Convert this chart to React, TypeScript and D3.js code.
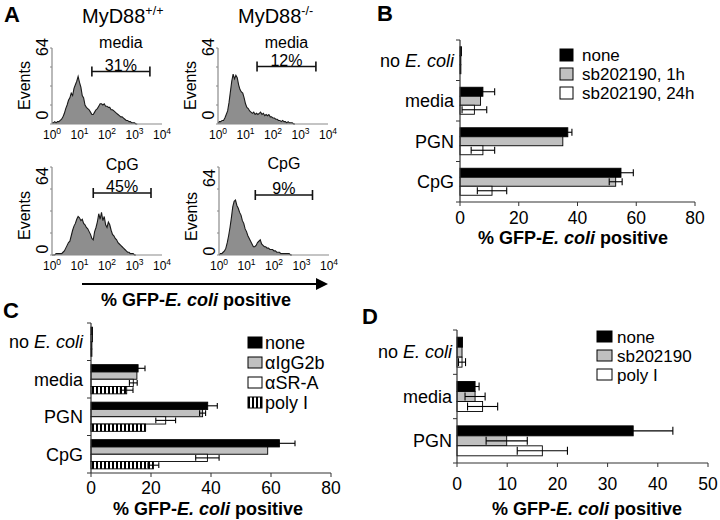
import React from "react";
import * as d3 from "d3";

const FONT = "'Liberation Sans', Arial, Helvetica, sans-serif";

// ---------- Panel A: flow histograms (counts per 0.05-decade bin, from 10^0) ----------
const HIST_BIN = 0.05;
const histMediaWT = [1, 1, 2, 1, 2, 2, 3, 4, 6, 9, 13, 16, 20, 22, 26, 24, 30, 33, 36, 40, 35, 31, 24, 22, 16, 14, 13, 12, 10, 8, 8, 10, 12, 13, 15, 17, 17, 16, 17, 15, 15, 14, 14, 12, 12, 11, 10, 9, 8, 7, 6, 6, 5, 4, 3, 3, 2, 2, 1, 1, 1, 0, 0];
const histMediaKO = [1, 2, 2, 3, 3, 5, 8, 11, 18, 27, 36, 42, 38, 41, 39, 33, 29, 27, 26, 22, 17, 14, 13, 11, 10, 9, 10, 8, 9, 8, 9, 10, 8, 9, 7, 8, 7, 8, 6, 6, 5, 5, 4, 4, 3, 3, 2, 3, 2, 2, 1, 2, 1, 1, 1, 0, 0];
const histCpgWT = [0, 0, 0, 1, 1, 1, 1, 1, 2, 3, 5, 7, 9, 10, 14, 18, 21, 23, 26, 28, 27, 25, 26, 23, 22, 20, 19, 17, 15, 12, 11, 17, 20, 24, 30, 26, 31, 25, 28, 22, 20, 24, 22, 18, 15, 14, 12, 11, 9, 8, 7, 6, 5, 4, 3, 2, 2, 1, 1, 1, 0, 0];
const histCpgKO = [0, 1, 1, 2, 3, 5, 9, 14, 20, 27, 35, 39, 40, 36, 34, 31, 29, 25, 23, 19, 17, 14, 12, 10, 8, 6, 6, 7, 9, 10, 11, 8, 7, 6, 6, 5, 5, 4, 4, 4, 3, 3, 2, 2, 2, 1, 1, 1, 1, 1, 1, 1, 0, 0];
const histGates = [[1.45, 3.56], [1.42, 3.56], [1.5, 3.6], [1.32, 3.4]];
const histPercents = ["31%", "12%", "45%", "9%"];
const histStimuli = ["media", "media", "CpG", "CpG"];
const genotypeLabels = ["+/+", "-/-"];
const decadeTicks = [0, 1, 2, 3, 4];
const eventTicks = [0, 16, 32, 48, 64];

// ---------- Panel B ----------
const bCategories = ["no E. coli", "media", "PGN", "CpG"];
const bSeriesNames = ["none", "sb202190, 1h", "sb202190, 24h"];
const bNone = [0.5, 7.8, 36.7, 54.8];
const bNoneErr = [0, 4.0, 1.4, 4.2];
const bSb1h = [0.3, 7.0, 35.0, 53.0];
const bSb1hErr = [0, 0, 0, 2.2];
const bSb24h = [0.3, 4.9, 7.8, 10.9];
const bSb24hErr = [0, 4.2, 4.0, 5.0];
const bTicks = [0, 20, 40, 60, 80];

// ---------- Panel C ----------
const cCategories = ["no E. coli", "media", "PGN", "CpG"];
const cSeriesNames = ["none", "αIgG2b", "αSR-A", "poly I"];
const cNone = [0.5, 15.7, 38.9, 62.8];
const cNoneErr = [0, 2.3, 3.2, 5.2];
const cIgG = [0.5, 15.3, 37.2, 58.9];
const cIgGErr = [0, 0, 1.0, 0];
const cSRA = [0.3, 14.1, 24.9, 38.8];
const cSRAErr = [0, 1.3, 3.3, 3.9];
const cPolyI = [0.3, 11.9, 18.2, 20.8];
const cPolyIErr = [0, 2.1, 0, 1.8];
const cTicks = [0, 20, 40, 60, 80];

// ---------- Panel D ----------
const dCategories = ["no E. coli", "media", "PGN"];
const dSeriesNames = ["none", "sb202190", "poly I"];
const dNone = [1.1, 3.6, 35.1];
const dNoneErr = [0, 0.8, 7.9];
const dSb = [1.0, 3.6, 9.9];
const dSbErr = [0, 2.0, 4.1];
const dPolyI = [1.0, 5.1, 17.0];
const dPolyIErr = [0.7, 3.0, 5.0];
const dTicks = [0, 10, 20, 30, 40, 50];

const GRAY = "#c0c0c0";

function CatLabel({ text }: { text: string }) {
  if (text.startsWith("no E. coli")) {
    return (
      <>
        {"no "}
        <tspan fontStyle="italic">E. coli</tspan>
      </>
    );
  }
  return <>{text}</>;
}

function AxisTitle({ x, y }: { x: number; y: number }) {
  return (
    <text x={x} y={y} textAnchor="middle" fontWeight="bold" fontSize={18}>
      {"% GFP-"}
      <tspan fontStyle="italic">E. coli</tspan>
      {" positive"}
    </text>
  );
}

function Histogram(props: any) {
  const { x0, yTop, yBase, counts, gate, gateY, pct, stim, stimY, lab64Y, lab0Y } = props;
  const x = d3.scaleLinear().domain([0, 4]).range([x0, x0 + 110]);
  const y = d3.scaleLinear().domain([0, 64]).range([yBase, yTop]);
  const pts: [number, number][] = counts.map((c: number, i: number) => [i * HIST_BIN, c]);
  const area = d3
    .area<[number, number]>()
    .x((d) => x(d[0]))
    .y0(yBase)
    .y1((d) => y(d[1]));
  const line = d3
    .line<[number, number]>()
    .x((d) => x(d[0]))
    .y((d) => y(d[1]));
  const gx0 = x(gate[0]);
  const gx1 = x(gate[1]);
  const gc = (gx0 + gx1) / 2;
  return (
    <g>
      <path d={area(pts) || ""} fill="#8e8e8e" />
      <path d={line(pts) || ""} fill="none" stroke="#1a1a1a" strokeWidth={1.1} />
      <line x1={x0} x2={x0} y1={yTop} y2={yBase} stroke="#8a8a8a" strokeWidth={1.2} />
      <line x1={x0} x2={x(4)} y1={yBase} y2={yBase} stroke="#8a8a8a" strokeWidth={1.2} />
      {eventTicks.map((t) => (
        <line key={t} x1={x0 - 2} x2={x0} y1={y(t)} y2={y(t)} stroke="#8a8a8a" />
      ))}
      {decadeTicks.map((k) => (
        <text key={k} x={x(k)} y={yBase + 15} textAnchor="middle" fontSize={12}>
          10
          <tspan dy={-5} fontSize={8.5}>
            {k}
          </tspan>
        </text>
      ))}
      <text transform={`translate(${x0 - 10},${lab64Y}) rotate(-90)`} textAnchor="middle" dy="0.36em" fontSize={16}>
        64
      </text>
      <text transform={`translate(${x0 - 10},${lab0Y}) rotate(-90)`} textAnchor="middle" dy="0.36em" fontSize={16}>
        0
      </text>
      <text transform={`translate(${x0 - 28},${(yTop + yBase) / 2 + (lab64Y - yTop) / 2}) rotate(-90)`} textAnchor="middle" dy="0.36em" fontSize={16}>
        Events
      </text>
      <line x1={gx0} x2={gx1} y1={gateY} y2={gateY} stroke="#111" strokeWidth={1.6} />
      <line x1={gx0} x2={gx0} y1={gateY - 5} y2={gateY + 5} stroke="#111" strokeWidth={1.6} />
      <line x1={gx1} x2={gx1} y1={gateY - 5} y2={gateY + 5} stroke="#111" strokeWidth={1.6} />
      <text x={gc} y={gateY - 1} textAnchor="middle" fontSize={16}>
        {pct}
      </text>
      <text x={gc} y={stimY} textAnchor="middle" fontSize={16}>
        {stim}
      </text>
    </g>
  );
}

function BarChart(props: any) {
  const { cats, series, domain, ticks, x0, x1, yTop, yBot, padOuter, labelRight, legend, tickBase, title } = props;
  const x = d3.scaleLinear().domain(domain).range([x0, x1]);
  const yg = d3.scaleBand<string>().domain(cats).range([yTop, yBot]).padding(0);
  const ys = d3
    .scaleBand<string>()
    .domain(series.map((s: any) => s.name))
    .range([0, yg.bandwidth()])
    .paddingInner(0)
    .paddingOuter(padOuter);
  const bh = ys.bandwidth();
  const cap = Math.min(bh * 0.8, 8);
  return (
    <g>
      {cats.map((c: string, ci: number) =>
        series.map((s: any) => {
          const yb = (yg(c) as number) + (ys(s.name) as number);
          const v = s.values[ci];
          const e = s.errors[ci];
          return (
            <g key={c + s.name}>
              <rect x={x(0)} y={yb} width={Math.max(x(v) - x(0), 0.8)} height={bh} fill={s.fill} stroke="#000" strokeWidth={0.9} />
              {e > 0 && (
                <g stroke="#000" strokeWidth={1.1}>
                  <line x1={x(v - e)} x2={x(v + e)} y1={yb + bh / 2} y2={yb + bh / 2} />
                  <line x1={x(v - e)} x2={x(v - e)} y1={yb + bh / 2 - cap / 2} y2={yb + bh / 2 + cap / 2} />
                  <line x1={x(v + e)} x2={x(v + e)} y1={yb + bh / 2 - cap / 2} y2={yb + bh / 2 + cap / 2} />
                </g>
              )}
            </g>
          );
        })
      )}
      {/* y axis */}
      <line x1={x0} x2={x0} y1={yTop} y2={yBot} stroke="#333" strokeWidth={1.2} />
      {cats.map((c: string) => (
        <line key={"yt" + c} x1={x0 - 4} x2={x0} y1={yg(c) as number} y2={yg(c) as number} stroke="#333" />
      ))}
      <line x1={x0 - 4} x2={x0} y1={yBot} y2={yBot} stroke="#333" />
      {cats.map((c: string) => (
        <text key={"yl" + c} x={labelRight} y={(yg(c) as number) + yg.bandwidth() / 2} dy="0.35em" textAnchor="end" fontSize={18}>
          <CatLabel text={c} />
        </text>
      ))}
      {/* x axis */}
      <line x1={x0} x2={x1} y1={yBot} y2={yBot} stroke="#333" strokeWidth={1.2} />
      {ticks.map((t: number) => (
        <g key={"xt" + t}>
          <line x1={x(t)} x2={x(t)} y1={yBot} y2={yBot + 4} stroke="#333" />
          <text x={x(t)} y={tickBase} textAnchor="middle" fontSize={17.5}>
            {t}
          </text>
        </g>
      ))}
      <AxisTitle x={title[0]} y={title[1]} />
      {/* legend */}
      {series.map((s: any, i: number) => (
        <g key={"lg" + s.name}>
          <rect x={legend.x} y={legend.y + i * legend.dy} width={legend.w} height={legend.h} fill={s.fill} stroke="#000" strokeWidth={1} />
          <text x={legend.tx} y={legend.y + i * legend.dy + legend.h / 2} dy="0.36em" fontSize={legend.fs}>
            {s.name}
          </text>
        </g>
      ))}
    </g>
  );
}

export default function App() {
  const histLayouts = [
    { x0: 52, yTop: 48, yBase: 124, gateY: 71.5, stimY: 48, lab64Y: 47, lab0Y: 115 },
    { x0: 218, yTop: 48, yBase: 124, gateY: 66.5, stimY: 48, lab64Y: 47, lab0Y: 115 },
    { x0: 52, yTop: 167, yBase: 255, gateY: 193, stimY: 170, lab64Y: 176, lab0Y: 249 },
    { x0: 219, yTop: 167, yBase: 255, gateY: 195, stimY: 169, lab64Y: 178, lab0Y: 251 },
  ];
  const histData = [histMediaWT, histMediaKO, histCpgWT, histCpgKO];

  const bSeries = [
    { name: bSeriesNames[0], values: bNone, errors: bNoneErr, fill: "#000" },
    { name: bSeriesNames[1], values: bSb1h, errors: bSb1hErr, fill: GRAY },
    { name: bSeriesNames[2], values: bSb24h, errors: bSb24hErr, fill: "#fff" },
  ];
  const cSeries = [
    { name: cSeriesNames[0], values: cNone, errors: cNoneErr, fill: "#000" },
    { name: cSeriesNames[1], values: cIgG, errors: cIgGErr, fill: GRAY },
    { name: cSeriesNames[2], values: cSRA, errors: cSRAErr, fill: "#fff" },
    { name: cSeriesNames[3], values: cPolyI, errors: cPolyIErr, fill: "url(#stripes)" },
  ];
  const dSeries = [
    { name: dSeriesNames[0], values: dNone, errors: dNoneErr, fill: "#000" },
    { name: dSeriesNames[1], values: dSb, errors: dSbErr, fill: GRAY },
    { name: dSeriesNames[2], values: dPolyI, errors: dPolyIErr, fill: "#fff" },
  ];

  return (
    <svg
      width={720}
      height={520}
      viewBox="0 0 720 520"
      style={{ position: "absolute", left: 0, top: 0, background: "#fff", fontFamily: FONT }}
      fontFamily={FONT}
    >
      <defs>
        <pattern id="stripes" width={4} height={4} patternUnits="userSpaceOnUse">
          <rect width={4} height={4} fill="#fff" />
          <rect width={2} height={4} fill="#000" />
        </pattern>
      </defs>
      <rect width={720} height={520} fill="#fff" />

      {/* Panel A */}
      <text x={4} y={22} fontSize={22} fontWeight="bold">A</text>
      <text x={82} y={23} fontSize={20}>
        MyD88
        <tspan dy={-8} fontSize={12.5}>{genotypeLabels[0]}</tspan>
      </text>
      <text x={238} y={23} fontSize={20}>
        MyD88
        <tspan dy={-8} fontSize={12.5}>{genotypeLabels[1]}</tspan>
      </text>
      {histLayouts.map((l, i) => (
        <Histogram
          key={i}
          {...l}
          counts={histData[i]}
          gate={histGates[i]}
          pct={histPercents[i]}
          stim={histStimuli[i]}
        />
      ))}
      <line x1={82} x2={318} y1={284} y2={284} stroke="#000" strokeWidth={2} />
      <polygon points="316,278 328,284 316,290" fill="#000" />
      <AxisTitle x={196} y={306} />

      {/* Panel B */}
      <text x={377} y={21} fontSize={22} fontWeight="bold">B</text>
      <BarChart
        cats={bCategories}
        series={bSeries}
        domain={[0, 80]}
        ticks={bTicks}
        x0={460}
        x1={695}
        yTop={40}
        yBot={202}
        padOuter={0.75}
        labelRight={454}
        legend={{ x: 560, y: 49, dy: 19, w: 13, h: 12, tx: 582, fs: 17 }}
        tickBase={224}
        title={[573, 244]}
      />

      {/* Panel C */}
      <text x={3} y={318} fontSize={22} fontWeight="bold">C</text>
      <BarChart
        cats={cCategories}
        series={cSeries}
        domain={[0, 80]}
        ticks={cTicks}
        x0={91}
        x1={331}
        yTop={323}
        yBot={473}
        padOuter={0.57}
        labelRight={83}
        legend={{ x: 248, y: 337, dy: 20, w: 14, h: 11, tx: 265, fs: 18 }}
        tickBase={494}
        title={[208, 515]}
      />

      {/* Panel D */}
      <text x={362} y={324} fontSize={22} fontWeight="bold">D</text>
      <BarChart
        cats={dCategories}
        series={dSeries}
        domain={[0, 50]}
        ticks={dTicks}
        x0={457}
        x1={708}
        yTop={330}
        yBot={463}
        padOuter={0.72}
        labelRight={452}
        legend={{ x: 597, y: 331, dy: 19, w: 15, h: 11, tx: 617, fs: 17 }}
        tickBase={490}
        title={[587, 515]}
      />
    </svg>
  );
}
